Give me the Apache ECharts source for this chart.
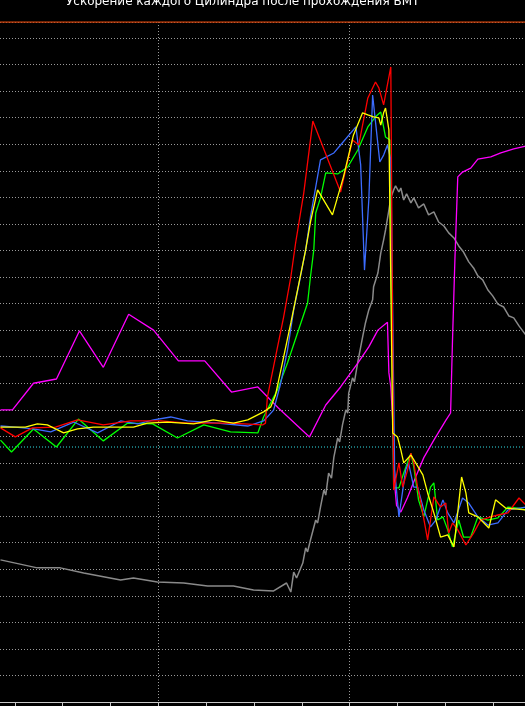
<!DOCTYPE html>
<html>
<head>
<meta charset="utf-8">
<script src="https://cdn.jsdelivr.net/npm/echarts@6/dist/echarts.min.js"></script>
<style>
html,body{margin:0;padding:0;background:#000;overflow:hidden;width:525px;height:706px;}
#c{position:absolute;left:-33px;top:0;width:574px;height:706px;}
</style>
</head>
<body>
<div id="c"></div>
<script>
const titleText = "Ускорение каждого Цилиндра после прохождения ВМТ";
const upperLimit = 25.6;
const thresholdLevel = 9.6;
const xRange = [-80, 40];

const cyl1Red = [[-73.0,10.32],[-69.9,9.98],[-66.3,10.32],[-61.5,10.35],[-56.9,10.62],[-51.5,10.43],[-45.8,10.58],[-39.5,10.58],[-33.9,10.5],[-24.9,10.5],[-18.2,10.43],[-17.6,10.5],[-17.2,11.48],[-15.5,12.99],[-13.8,14.5],[-12.3,16.0],[-11.3,17.28],[-9.6,19.16],[-7.7,21.87],[-1.9,19.2],[0.6,21.16],[1.9,20.97],[3.8,22.74],[5.4,23.34],[6.1,23.12],[7.1,22.48],[8.6,23.91],[9.2,7.98],[10.3,9.0],[11.1,8.09],[12.1,8.73],[12.8,9.37],[13.4,9.0],[14.2,8.09],[14.9,7.49],[16.3,6.1],[17.6,7.72],[19.0,7.34],[20.1,7.49],[20.7,6.36],[21.5,6.74],[22.6,6.48],[24.3,5.91],[25.9,6.36],[27.4,6.85],[29.5,6.97],[31.0,7.04],[33.1,7.12],[35.4,7.68],[36.8,7.42]];

const cyl2Green = [[-73.0,9.86],[-70.7,9.41],[-66.1,10.28],[-61.3,9.6],[-56.7,10.65],[-51.5,9.83],[-46.4,10.5],[-41.2,10.47],[-36.0,9.94],[-30.5,10.43],[-24.9,10.17],[-19.2,10.13],[-18.0,10.73],[-16.5,11.26],[-15.1,11.75],[-13.0,12.76],[-10.9,13.89],[-8.8,15.02],[-8.2,16.0],[-7.5,17.02],[-7.1,18.41],[-6.1,18.98],[-5.0,19.92],[-2.5,19.88],[-0.4,20.14],[1.7,20.78],[3.8,21.65],[5.4,22.03],[6.5,22.21],[7.5,21.27],[8.4,21.16],[9.2,8.06],[10.3,8.06],[11.3,8.62],[12.8,9.37],[13.4,8.85],[14.4,7.61],[15.5,6.97],[16.9,8.09],[17.6,8.25],[18.4,6.85],[19.5,6.97],[20.5,6.48],[21.5,5.84],[22.8,6.85],[23.8,6.21],[25.3,6.21],[26.8,6.97],[28.9,6.85],[31.0,6.93],[33.1,7.34],[35.1,7.30],[36.8,7.23]];

const cyl3Blue = [[-73.0,10.39],[-69.9,10.35],[-66.1,10.28],[-62.5,10.17],[-57.7,10.54],[-52.7,10.13],[-47.9,10.58],[-44.3,10.47],[-41.0,10.62],[-37.4,10.73],[-33.9,10.58],[-27.6,10.5],[-21.3,10.39],[-18.0,10.58],[-15.9,10.99],[-14.4,12.01],[-13.0,13.25],[-11.7,14.76],[-10.3,16.0],[-9.2,17.02],[-8.2,18.26],[-6.1,20.41],[-3.3,20.67],[-1.9,20.97],[1.3,21.65],[2.3,20.22],[3.1,16.26],[4.0,18.9],[4.8,22.85],[5.4,21.84],[6.3,20.33],[7.1,20.59],[7.9,20.97],[8.6,20.41],[9.4,8.73],[10.3,6.97],[11.7,8.73],[12.3,9.0],[13.4,8.09],[14.2,8.09],[15.5,7.23],[16.9,6.59],[18.0,6.85],[19.5,7.61],[20.5,7.12],[21.8,6.74],[23.6,7.68],[24.9,7.49],[26.8,6.97],[28.9,6.66],[31.0,6.74],[33.1,7.23],[36.8,7.34]];

const cyl4Yellow = [[-73.0,10.35],[-67.8,10.35],[-65.3,10.47],[-63.2,10.43],[-59.8,10.13],[-56.9,10.28],[-53.6,10.35],[-49.4,10.35],[-45.2,10.35],[-42.3,10.5],[-38.1,10.54],[-32.6,10.47],[-28.5,10.62],[-24.3,10.5],[-21.3,10.62],[-18.0,10.92],[-16.5,11.11],[-15.5,11.56],[-13.8,12.99],[-12.3,14.27],[-10.9,15.51],[-9.2,17.02],[-8.2,18.07],[-6.7,19.28],[-3.6,18.34],[-1.3,19.77],[0.8,21.35],[2.7,22.18],[3.8,22.1],[5.0,22.03],[6.1,21.99],[6.5,21.72],[7.1,22.18],[7.5,22.36],[8.2,21.54],[9.0,10.13],[10.0,9.98],[10.7,9.49],[11.3,9.0],[12.8,9.3],[13.8,9.0],[15.3,8.55],[16.3,7.87],[17.6,7.12],[19.0,6.21],[20.5,6.29],[21.8,5.84],[23.4,8.47],[24.3,7.87],[24.9,7.12],[26.8,6.97],[29.1,6.55],[30.5,7.61],[32.6,7.30],[36.8,7.23]];

const magentaLine = [[-73.0,11.0],[-70.5,11.0],[-66.1,12.0],[-61.3,12.16],[-56.5,13.97],[-51.5,12.6],[-46.2,14.6],[-41.0,14.0],[-35.8,12.84],[-30.3,12.84],[-24.7,11.67],[-19.2,11.86],[-14.9,11.07],[-8.4,9.98],[-5.0,11.18],[-1.9,11.86],[1.7,12.76],[4.0,13.37],[5.9,14.0],[7.9,14.3],[8.2,12.4],[8.6,11.86],[9.0,10.6],[9.2,8.6],[9.8,7.4],[10.7,7.15],[12.1,7.7],[13.8,8.47],[15.5,9.2],[17.6,9.86],[20.1,10.6],[21.1,10.88],[21.5,13.63],[22.0,16.64],[22.6,19.77],[23.6,19.95],[25.3,20.1],[26.8,20.44],[29.5,20.52],[31.6,20.67],[34.3,20.82],[36.8,20.93]];

const grayLine = [[-73.0,5.35],[-65.3,5.05],[-60.5,5.05],[-55.6,4.86],[-47.9,4.59],[-45.2,4.67],[-40.2,4.52],[-34.7,4.48],[-29.7,4.37],[-24.3,4.37],[-20.1,4.22],[-15.9,4.18],[-13.2,4.48],[-12.3,4.14],[-11.7,4.89],[-11.1,4.67],[-9.8,5.23],[-9.2,5.8],[-8.8,5.65],[-8.2,6.1],[-7.1,6.85],[-6.7,6.74],[-6.1,7.34],[-5.4,7.98],[-5.0,7.79],[-4.4,8.62],[-3.8,8.43],[-3.3,9.22],[-2.5,9.94],[-2.1,9.79],[-1.5,10.43],[-0.8,11.0],[-0.4,10.88],[-0.2,11.63],[0.6,12.2],[1.0,12.05],[1.7,12.8],[2.7,13.74],[3.3,14.27],[4.0,14.76],[4.8,15.14],[5.0,15.63],[5.9,16.15],[6.5,16.9],[7.1,17.4],[7.5,17.77],[8.2,18.52],[8.6,18.98],[9.2,19.28],[9.6,19.43],[10.3,19.2],[10.7,19.35],[11.3,18.9],[11.9,19.13],[12.8,18.79],[13.4,18.98],[14.4,18.6],[15.5,18.75],[16.5,18.34],[17.6,18.45],[18.6,18.07],[19.7,17.92],[20.7,17.66],[21.8,17.47],[22.8,17.17],[23.8,16.94],[24.9,16.57],[25.9,16.34],[26.8,16.04],[27.8,15.89],[28.9,15.51],[29.9,15.29],[31.0,14.98],[32.2,14.87],[33.3,14.53],[34.3,14.46],[35.4,14.16],[36.8,13.82]];

const chart = echarts.init(document.getElementById('c'), null, {renderer: 'canvas'});

function lineSeries(name, data, color, width, z, type) {
  return {
    name: name, type: 'line', data: data, showSymbol: false, symbol: 'none',
    lineStyle: {color: color, width: width, type: type || 'solid'}, z: z, animation: false, silent: true,
    clip: true
  };
}

const dotted = {color: '#9a9a9a', width: 1, type: [1, 2]};

const option = {
  backgroundColor: '#000000',
  animation: false,
  title: {
    text: titleText,
    left: 94, top: -9,
    textStyle: {color: '#ffffff', fontSize: 12, fontWeight: 'normal', fontFamily: 'DejaVu Sans'}
  },
  grid: {left: 0, right: 0, top: 22, bottom: 4, containLabel: false},
  xAxis: [
    {
      type: 'value', min: xRange[0], max: xRange[1], interval: 10,
      axisLine: {show: true, lineStyle: {color: '#c8c8c8', width: 1}},
      axisTick: {show: true, inside: false, length: 4, lineStyle: {color: '#c8c8c8'}},
      axisLabel: {show: false},
      splitLine: {show: false}
    },
    {
      type: 'value', min: xRange[0], max: xRange[1], interval: 40, position: 'bottom',
      axisLine: {show: false}, axisTick: {show: false}, axisLabel: {show: false},
      splitLine: {show: true, lineStyle: dotted}
    }
  ],
  yAxis: {
    type: 'value', min: 0, max: upperLimit, interval: 1,
    axisLine: {show: false}, axisTick: {show: false}, axisLabel: {show: false},
    splitLine: {show: true, lineStyle: dotted}
  },
  series: [
    lineSeries('Порог', [[xRange[0], thresholdLevel], [xRange[1], thresholdLevel]], '#33e0e8', 1, 1, [1, 2]),
    lineSeries('Предел', [[xRange[0], upperLimit], [xRange[1], upperLimit]], '#c8400c', 1.5, 1),
    lineSeries('Фон', grayLine, '#8a8a8a', 1.5, 2),
    lineSeries('Давление', magentaLine, '#ff00ff', 1.3, 3),
    lineSeries('Цилиндр 2', cyl2Green, '#00ff00', 1.3, 4),
    lineSeries('Цилиндр 3', cyl3Blue, '#3c6cff', 1.3, 5),
    lineSeries('Цилиндр 1', cyl1Red, '#ff0000', 1.3, 6),
    lineSeries('Цилиндр 4', cyl4Yellow, '#ffff00', 1.3, 7)
  ]
};
chart.setOption(option);
</script>
</body>
</html>
